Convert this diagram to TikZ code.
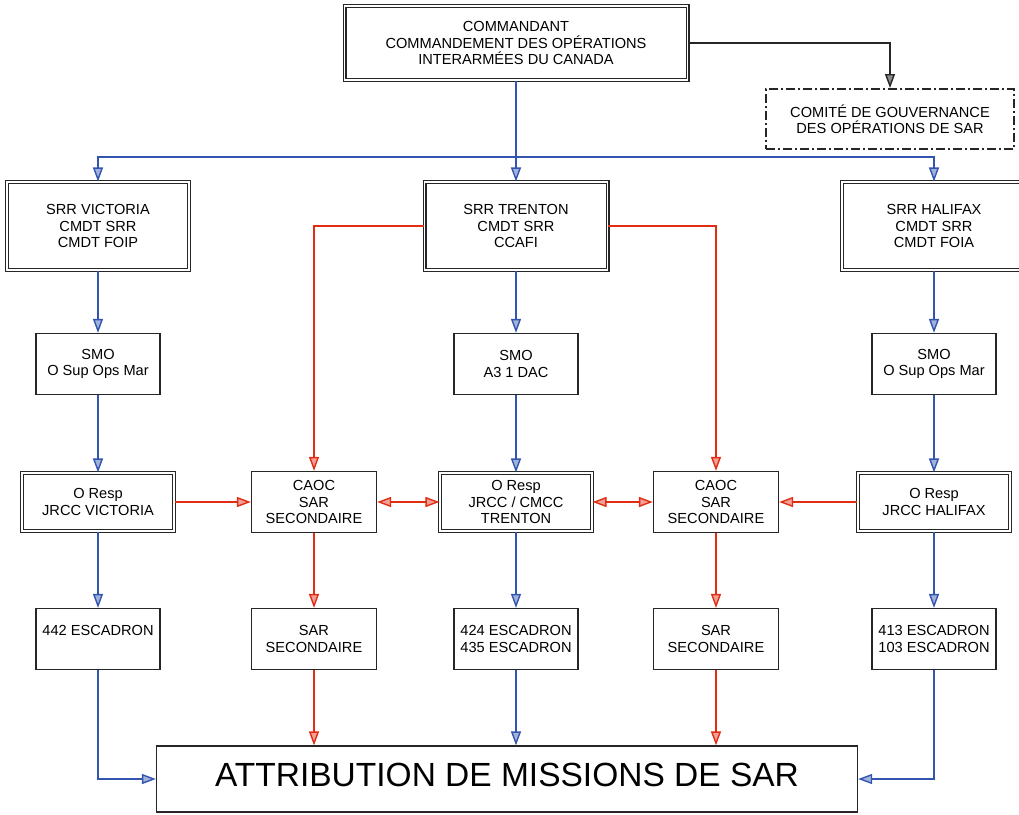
\documentclass[tikz,border=0pt]{standalone}
\usepackage{fontspec}
\setmainfont{Liberation Sans}
\usetikzlibrary{arrows.meta}
\definecolor{linkblue}{RGB}{50,85,175}
\definecolor{linkred}{RGB}{225,45,20}
\newcommand\bxfont{\fontsize{14.6}{16.5}\selectfont}
\tikzset{
  sbox/.style={draw=black!85, line width=1.3pt, align=center, inner sep=0pt, font=\bxfont},
  dbox/.style={draw=black!85, double=white, double distance=1.8pt, line width=1.1pt, align=center, inner sep=0pt, font=\bxfont},
  tipb/.style={-{Triangle[width=10pt,length=14pt,fill=linkblue!45]}},
  tipr/.style={-{Triangle[width=10pt,length=14pt,fill=linkred!45]}},
  tiprr/.style={{Triangle[width=10pt,length=14pt,fill=linkred!45]}-{Triangle[width=10pt,length=14pt,fill=linkred!45]}},
  bl/.style={draw=linkblue, line width=1.4pt},
  rd/.style={draw=linkred, line width=1.4pt}
}
\begin{document}
\begin{tikzpicture}[x=1pt,y=-1pt]
\useasboundingbox (0,0) rectangle (1019,814);

\node[dbox, minimum width=343, minimum height=74] (cmd) at (516,43) {COMMANDANT\\COMMANDEMENT DES OPÉRATIONS\\INTERARMÉES DU CANADA};
\node[draw=black!85, line width=2pt, dash pattern=on 9pt off 3pt on 2pt off 3pt, align=center, font=\bxfont, minimum width=248, minimum height=60] (gov) at (890,119) {COMITÉ DE GOUVERNANCE\\DES OPÉRATIONS DE SAR};

\node[dbox, minimum width=182, minimum height=88] (srrv) at (98,226) {SRR VICTORIA\\CMDT SRR\\CMDT FOIP};
\node[dbox, minimum width=183, minimum height=88] (srrt) at (516,226) {SRR TRENTON\\CMDT SRR\\CCAFI};
\node[dbox, minimum width=184, minimum height=88] (srrh) at (934,226) {SRR HALIFAX\\CMDT SRR\\CMDT FOIA};

\node[sbox, minimum width=124, minimum height=61] (smov) at (98,364) {SMO\\O Sup Ops Mar};
\node[sbox, minimum width=124, minimum height=61] (smot) at (516,364) {SMO\\A3 1 DAC};
\node[sbox, minimum width=124, minimum height=61] (smoh) at (934,364) {SMO\\O Sup Ops Mar};

\node[dbox, minimum width=152, minimum height=58] (jrccv) at (98,502) {O Resp\\JRCC VICTORIA};
\node[sbox, minimum width=125, minimum height=61] (caocl) at (314,502) {CAOC\\SAR\\SECONDAIRE};
\node[dbox, minimum width=152, minimum height=58] (jrcct) at (516,502) {O Resp\\JRCC / CMCC\\TRENTON};
\node[sbox, minimum width=125, minimum height=61] (caocr) at (716,502) {CAOC\\SAR\\SECONDAIRE};
\node[dbox, minimum width=152, minimum height=58] (jrcch) at (934,502) {O Resp\\JRCC HALIFAX};

\node[sbox, minimum width=124, minimum height=61] (esc442) at (98,639) {442 ESCADRON\\~};
\node[sbox, minimum width=125, minimum height=61] (sarl) at (314,639) {SAR\\SECONDAIRE};
\node[sbox, minimum width=124, minimum height=61] (esc424) at (516,639) {424 ESCADRON\\435 ESCADRON};
\node[sbox, minimum width=125, minimum height=61] (sarr) at (716,639) {SAR\\SECONDAIRE};
\node[sbox, minimum width=124, minimum height=61] (esc413) at (934,639) {413 ESCADRON\\103 ESCADRON};

\node[sbox, font=\fontsize{33.5}{36}\selectfont, minimum width=701, minimum height=66, text depth=8pt] (attr) at (507,779) {ATTRIBUTION DE MISSIONS DE SAR};

\coordinate (hub) at (516,157);
\draw [line width=1.4pt, draw=black!85, -{Triangle[width=10pt,length=14pt,fill=black!45]}] (cmd.east) -| (gov);
\draw [bl, tipb] (cmd) edge (srrt);
\draw [bl, tipb] (hub) -| (srrv);
\draw [bl, tipb] (hub) -| (srrh);

\draw [bl, tipb] (srrv) edge (smov);
\draw [bl, tipb] (smov) edge (jrccv);
\draw [bl, tipb] (jrccv) edge (esc442);
\draw [bl, tipb] (srrt) edge (smot);
\draw [bl, tipb] (smot) edge (jrcct);
\draw [bl, tipb] (jrcct) edge (esc424);
\draw [bl, tipb] (srrh) edge (smoh);
\draw [bl, tipb] (smoh) edge (jrcch);
\draw [bl, tipb] (jrcch) edge (esc413);

\draw [rd, tipr] (srrt.west) -| (caocl);
\draw [rd, tipr] (srrt.east) -| (caocr);
\draw [rd, tipr] (jrccv) edge (caocl);
\draw [rd, tiprr] (caocl) edge (jrcct);
\draw [rd, tiprr] (jrcct) edge (caocr);
\draw [rd, tipr] (jrcch) edge (caocr);
\draw [rd, tipr] (caocl) edge (sarl);
\draw [rd, tipr] (caocr) edge (sarr);

\draw [bl, tipb] (esc442) |- (attr);
\draw [bl, tipb] (esc413) |- (attr);
\draw [rd, tipr] (sarl) -- (sarl |- attr.north);
\draw [bl, tipb] (esc424) -- (esc424 |- attr.north);
\draw [rd, tipr] (sarr) -- (sarr |- attr.north);
\end{tikzpicture}
\end{document}
